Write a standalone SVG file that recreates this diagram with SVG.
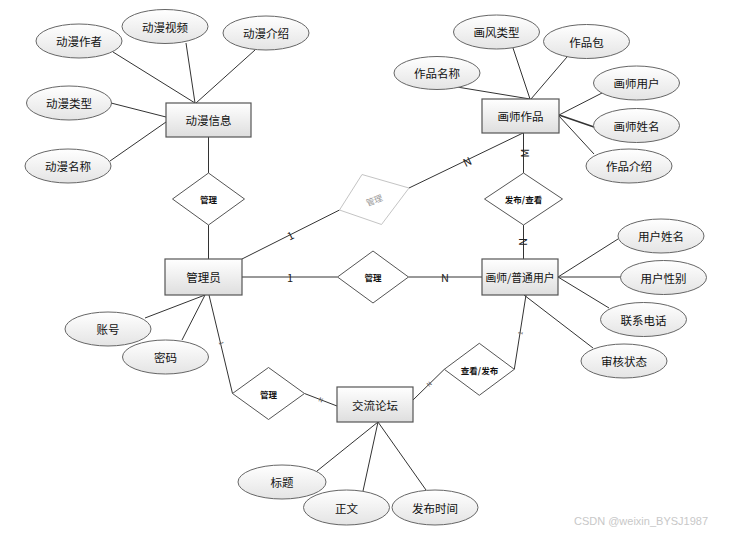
<svg xmlns="http://www.w3.org/2000/svg" width="735" height="535" viewBox="0 0 735 535">
<defs>
<linearGradient id="gRect" x1="0" y1="0" x2="0" y2="1"><stop offset="0" stop-color="#ffffff"/><stop offset="1" stop-color="#dedede"/></linearGradient>
<linearGradient id="gEll" x1="0" y1="0" x2="0" y2="1"><stop offset="0" stop-color="#ffffff"/><stop offset="1" stop-color="#e4e4e4"/></linearGradient>
<style>
text{font-family:"Microsoft YaHei","Noto Sans CJK SC","Liberation Sans",sans-serif;text-anchor:middle;dominant-baseline:central;fill:#111}
.ent rect{fill:url(#gRect);stroke:#555;stroke-width:1.2}
.att ellipse{fill:url(#gEll);stroke:#666;stroke-width:1}
.rel polygon{fill:#fff;stroke:#555;stroke-width:1}
.ent text{font-size:11.5px}
.att text{font-size:11.5px}
.rel text{font-size:8.5px;font-weight:bold}
#connectors line{stroke:#333;stroke-width:1}
.lbl{font-size:11px;fill:#222}
.tiny{font-size:6px;fill:#555}
</style>
</defs>
<rect width="735" height="535" fill="#fff"/>
<g id="connectors">
<line x1="113" y1="52" x2="195" y2="103"/>
<line x1="186" y1="43" x2="195" y2="103"/>
<line x1="255" y1="50" x2="196" y2="103"/>
<line x1="111" y1="103" x2="166" y2="117"/>
<line x1="110" y1="161" x2="166" y2="122"/>
<line x1="208.5" y1="137" x2="208.5" y2="173"/>
<line x1="208.5" y1="225" x2="208.5" y2="259"/>
<line x1="457" y1="87" x2="530" y2="99"/>
<line x1="513" y1="48" x2="530" y2="99"/>
<line x1="567" y1="57" x2="531" y2="99"/>
<line x1="602" y1="93" x2="559" y2="115"/>
<line x1="559" y1="115" x2="594" y2="127" style="stroke-width:1.5"/>
<line x1="559" y1="116" x2="594" y2="154"/>
<line x1="523.5" y1="133" x2="523.5" y2="173"/>
<line x1="523.5" y1="225" x2="523.5" y2="259"/>
<line x1="242" y1="259" x2="339.5" y2="210"/>
<line x1="409" y1="188" x2="523" y2="133"/>
<line x1="242" y1="277" x2="337.5" y2="277"/>
<line x1="408.5" y1="277" x2="482" y2="277"/>
<line x1="558" y1="277" x2="618" y2="239"/>
<line x1="558" y1="277" x2="621" y2="277"/>
<line x1="558" y1="277" x2="609" y2="308"/>
<line x1="524" y1="295" x2="593" y2="348"/>
<line x1="526" y1="295" x2="514.3" y2="369.3"/>
<line x1="205" y1="295" x2="145" y2="318"/>
<line x1="205" y1="295" x2="182" y2="340"/>
<line x1="209" y1="295" x2="232.5" y2="393.5"/>
<line x1="304.5" y1="393.5" x2="337" y2="406"/>
<line x1="413" y1="400" x2="444.3" y2="369.3"/>
<line x1="378" y1="422" x2="317" y2="471"/>
<line x1="378" y1="422" x2="363" y2="491"/>
<line x1="378" y1="422" x2="426" y2="490"/>
</g>
<g id="labels">
<text class="lbl" transform="translate(290,235) rotate(-26.5)">1</text>
<text class="lbl" transform="translate(467,161) rotate(-25.6)">N</text>
<text class="lbl" transform="translate(523.5,153) rotate(-90)">M</text>
<text class="lbl" x="290" y="277">1</text>
<text class="lbl" x="445" y="277">N</text>
<text class="lbl" transform="translate(523.5,242) rotate(90)">N</text>
<text class="tiny" transform="translate(221.5,343) rotate(76)">1</text>
<text class="tiny" transform="translate(321,399.5) rotate(22)">N</text>
<text class="tiny" transform="translate(429,384) rotate(-45)">N</text>
<text class="tiny" transform="translate(520,333) rotate(-81)">1</text>
</g>
<g id="e-dongman" class="ent"><rect x="166" y="103" width="85" height="34"/><text x="208.5" y="120">动漫信息</text></g>
<g id="e-zuopin" class="ent"><rect x="482" y="99" width="77" height="34"/><text x="520.5" y="116">画师作品</text></g>
<g id="e-admin" class="ent"><rect x="165" y="259" width="77" height="36"/><text x="203.5" y="277">管理员</text></g>
<g id="e-user" class="ent"><rect x="482" y="259" width="76" height="36"/><text x="520" y="277" style="font-size:10.8px">画师/普通用户</text></g>
<g id="e-forum" class="ent"><rect x="337" y="387" width="76" height="35"/><text x="375" y="404.5">交流论坛</text></g>
<g id="r-admin-dm" class="rel"><polygon points="172.5,199 208.5,173 244.5,199 208.5,225"/><text x="208.5" y="199">管理</text></g>
<g id="r-admin-zp" class="rel"><polygon points="339.5,210 362,174.5 409,188 381.5,224.5" style="stroke:#c4c4c4"/><text transform="translate(374,199.5) rotate(-20)" style="fill:#999;font-weight:normal">管理</text></g>
<g id="r-admin-user" class="rel"><polygon points="337.5,277 373,251 408.5,277 373,303"/><text x="373" y="277">管理</text></g>
<g id="r-publish" class="rel"><polygon points="484.5,199 523.5,173 562.5,199 523.5,225"/><text x="523.5" y="199">发布/查看</text></g>
<g id="r-admin-forum" class="rel"><polygon points="232.5,393.5 268.5,367.5 304.5,393.5 268.5,419.5"/><text x="268.5" y="393.5">管理</text></g>
<g id="r-view" class="rel"><polygon points="444.3,369.3 479.3,343.3 514.3,369.3 479.3,395.3"/><text x="479.5" y="369.5">查看/发布</text></g>
<g id="a-author" class="att"><ellipse cx="79" cy="41" rx="43" ry="17"/><text x="79" y="41">动漫作者</text></g>
<g id="a-video" class="att"><ellipse cx="165" cy="26.5" rx="43" ry="17"/><text x="165" y="26.5">动漫视频</text></g>
<g id="a-intro" class="att"><ellipse cx="266" cy="33" rx="43" ry="17"/><text x="266" y="33">动漫介绍</text></g>
<g id="a-type" class="att"><ellipse cx="69" cy="103" rx="42.5" ry="17"/><text x="69" y="103">动漫类型</text></g>
<g id="a-name" class="att"><ellipse cx="68" cy="166" rx="43" ry="17"/><text x="68" y="166">动漫名称</text></g>
<g id="a-style" class="att"><ellipse cx="496.5" cy="32" rx="43" ry="17"/><text x="496.5" y="32">画风类型</text></g>
<g id="a-pack" class="att"><ellipse cx="586.5" cy="41.5" rx="43" ry="17"/><text x="586.5" y="41.5">作品包</text></g>
<g id="a-wname" class="att"><ellipse cx="437" cy="73" rx="43" ry="16.5"/><text x="437" y="73">作品名称</text></g>
<g id="a-painter" class="att"><ellipse cx="636.5" cy="83" rx="43" ry="17"/><text x="636.5" y="83">画师用户</text></g>
<g id="a-pname" class="att"><ellipse cx="636.5" cy="125.5" rx="43" ry="17"/><text x="636.5" y="125.5">画师姓名</text></g>
<g id="a-wintro" class="att"><ellipse cx="629" cy="166" rx="43" ry="17"/><text x="629" y="166">作品介绍</text></g>
<g id="a-uname" class="att"><ellipse cx="661" cy="236" rx="43" ry="17"/><text x="661" y="236">用户姓名</text></g>
<g id="a-gender" class="att"><ellipse cx="663.5" cy="277.5" rx="43" ry="17"/><text x="663.5" y="277.5">用户性别</text></g>
<g id="a-phone" class="att"><ellipse cx="643.5" cy="319.5" rx="43" ry="17"/><text x="643.5" y="319.5">联系电话</text></g>
<g id="a-status" class="att"><ellipse cx="624" cy="361" rx="43" ry="17"/><text x="624" y="361">审核状态</text></g>
<g id="a-account" class="att"><ellipse cx="108" cy="329" rx="43" ry="17"/><text x="108" y="329">账号</text></g>
<g id="a-pwd" class="att"><ellipse cx="165.5" cy="357" rx="43" ry="17"/><text x="165.5" y="357">密码</text></g>
<g id="a-title" class="att"><ellipse cx="282" cy="482" rx="44" ry="17"/><text x="282" y="482">标题</text></g>
<g id="a-body" class="att"><ellipse cx="346.5" cy="507.5" rx="43" ry="17.5"/><text x="346.5" y="507.5">正文</text></g>
<g id="a-time" class="att"><ellipse cx="435" cy="507.5" rx="43" ry="17.5"/><text x="435" y="507.5">发布时间</text></g>
<text x="641" y="521" style="font-size:11px;fill:#c8c8c8;font-family:'Liberation Sans',sans-serif">CSDN @weixin_BYSJ1987</text>
</svg>
